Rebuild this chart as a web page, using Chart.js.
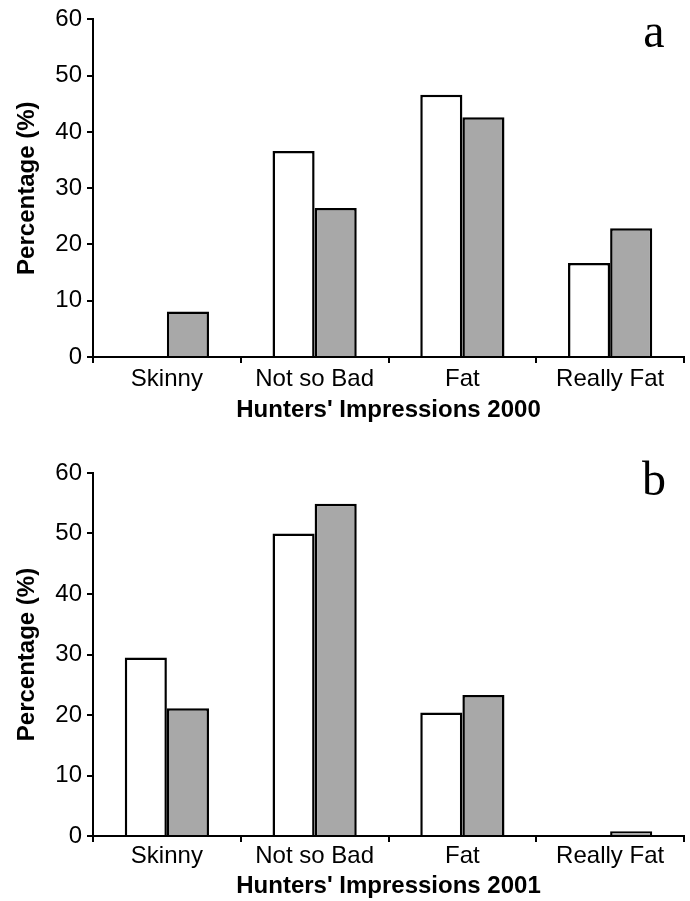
<!DOCTYPE html>
<html>
<head>
<meta charset="utf-8">
<script src="https://cdn.jsdelivr.net/npm/chart.js@4.4.1/dist/chart.umd.min.js"></script>
<style>
	body { margin: 0; background: #fff; }
	.panel { position: absolute; left: 0; width: 690px; }
</style>
</head>
<body>
<div class="panel" style="top:0;height:430px"><canvas id="chartA"></canvas></div>
<div class="panel" style="top:440px;height:461px"><canvas id="chartB"></canvas></div>
<script>
const categories = ["Skinny", "Not so Bad", "Fat", "Really Fat"];
const yTicks = [0, 10, 20, 30, 40, 50, 60];

// 2000 survey
const white2000 = [0, 36.6, 46.6, 16.7];
const grey2000 = [8.1, 26.5, 42.6, 22.9];

// 2001 survey
const white2001 = [29.5, 50, 20.4, 0];
const grey2001 = [21.1, 54.9, 23.3, 0.8];

const font = "'Liberation Sans', Arial, sans-serif";

// draws the big serif panel letter (a / b)
const panelLetter = {
	id: "panelLetter",
	afterDraw(chart, args, opts) {
		const ctx = chart.ctx;
		ctx.save();
		ctx.font = "48px 'Liberation Serif', 'Times New Roman', serif";
		ctx.fillStyle = "#000";
		ctx.textAlign = "center";
		ctx.textBaseline = "alphabetic";
		ctx.fillText(opts.text, opts.x, opts.y);
		ctx.restore();
	},
};

function makeChart(id, whites, greys, title, letter, layout) {
	return new Chart(document.getElementById(id), {
		type: "bar",
		data: {
			labels: categories,
			datasets: [
				{
					data: whites,
					backgroundColor: "#ffffff",
					borderColor: "#000",
					borderWidth: 2.5,
					borderSkipped: "start",
				},
				{
					data: greys,
					backgroundColor: "#a8a8a8",
					borderColor: "#000",
					borderWidth: 2.5,
					borderSkipped: "start",
				},
			],
		},
		options: {
			responsive: true,
			maintainAspectRatio: false,
			animation: false,
			categoryPercentage: 0.57,
			barPercentage: 1.0,
			layout: { padding: { top: layout.top, right: 6, bottom: 0, left: 0 } },
			plugins: {
				legend: { display: false },
				tooltip: { enabled: false },
				panelLetter: { text: letter.text, x: 654, y: letter.y },
			},
			scales: {
				x: {
					grid: {
						display: true,
						offset: true,
						drawOnChartArea: false,
						color: "#000",
						lineWidth: 2,
						tickLength: 6,
					},
					border: { color: "#000", width: 2 },
					ticks: {
						color: "#000",
						font: { family: font, size: 24 },
						padding: layout.tickPad,
						maxRotation: 0,
					},
					title: {
						display: true,
						text: title,
						color: "#000",
						font: { family: font, size: 24, weight: "bold" },
						padding: { top: 0, bottom: layout.titlePad },
					},
					afterFit(scale) {
						scale.height = layout.xHeight;
					},
				},
				y: {
					min: 0,
					max: 60,
					afterBuildTicks(scale) {
						scale.ticks = yTicks.map((v) => ({ value: v }));
					},
					grid: {
						display: true,
						drawOnChartArea: false,
						color: "#000",
						lineWidth: 2,
						tickLength: 6,
					},
					border: { color: "#000", width: 2 },
					ticks: {
						color: "#000",
						font: { family: font, size: 24 },
						padding: 5,
					},
					title: {
						display: true,
						text: "Percentage (%)",
						color: "#000",
						font: { family: font, size: 24, weight: "bold" },
						padding: { top: 13, bottom: 0 },
					},
					afterFit(scale) {
						scale.width = 93;
					},
				},
			},
		},
		plugins: [panelLetter],
	});
}

makeChart("chartA", white2000, grey2000, "Hunters' Impressions 2000",
	{ text: "a", y: 47 },
	{ top: 19, xHeight: 73, tickPad: 2, titlePad: 5 });

makeChart("chartB", white2001, grey2001, "Hunters' Impressions 2001",
	{ text: "b", y: 55 },
	{ top: 33, xHeight: 65, tickPad: 0, titlePad: 0 });
</script>
</body>
</html>
